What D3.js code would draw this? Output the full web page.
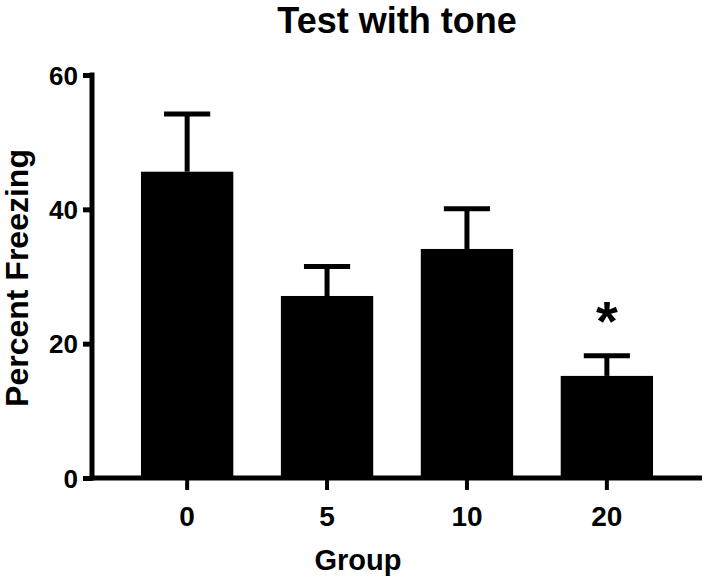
<!DOCTYPE html>
<html>
<head>
<meta charset="utf-8">
<script src="https://cdn.jsdelivr.net/npm/d3@7"></script>
<style>
  body { margin: 0; background: #fff; }
  svg text { font-family: "Liberation Sans", Arial, sans-serif; font-weight: bold; fill: #000; }
</style>
</head>
<body>
<svg id="chart" width="705" height="583"></svg>
<script>
// data
var groups = ["0", "5", "10", "20"],
meanFreezing = [45.6, 27.1, 34.1, 15.2],
semFreezing = [8.6, 4.4, 6.0, 3.0],
yTicks = [0, 20, 40, 60],
starGroups = ["20"];

var width = 705, height = 583,
x0 = 92, x1 = 702, yTop = 75, yBase = 478;

var svg = d3.select("#chart");

var x = d3.scaleBand()
.domain(groups)
.range([x0, x1])
.paddingInner(0.34)
.paddingOuter(0.35);

var y = d3.scaleLinear()
.domain([0, 60])
.range([yBase, yTop]);

var data = groups.map(function (g, i) {
  return {group: g, mean: meanFreezing[i], sem: semFreezing[i]};
});

// error bars (upper only)
var err = svg.append("g").attr("class", "errors");
err.selectAll("line.stem")
.data(data)
.enter().append("line")
.attr("class", "stem")
.attr("x1", function (d) {return x(d.group) + x.bandwidth()/2;})
.attr("x2", function (d) {return x(d.group) + x.bandwidth()/2;})
.attr("y1", function (d) {return y(d.mean);})
.attr("y2", function (d) {return y(d.mean + d.sem);})
.style("stroke", "#000")
.style("stroke-width", 5);

err.selectAll("line.cap")
.data(data)
.enter().append("line")
.attr("class", "cap")
.attr("x1", function (d) {return x(d.group) + x.bandwidth()/4;})
.attr("x2", function (d) {return x(d.group) + 3*x.bandwidth()/4;})
.attr("y1", function (d) {return y(d.mean + d.sem);})
.attr("y2", function (d) {return y(d.mean + d.sem);})
.style("stroke", "#000")
.style("stroke-width", 5);

// bars
svg.append("g").selectAll("rect")
.data(data)
.enter().append("rect")
.attr("x", function (d) {return x(d.group);})
.attr("y", function (d) {return y(d.mean);})
.attr("width", x.bandwidth())
.attr("height", function (d) {return y(0) - y(d.mean);})
.style("fill", "#000");

// significance star
svg.append("g").selectAll("text")
.data(data.filter(function (d) {return starGroups.indexOf(d.group) >= 0;}))
.enter().append("text")
.attr("x", function (d) {return x(d.group) + x.bandwidth()/2;})
.attr("y", function (d) {return y(d.mean + d.sem) - 16;})
.attr("text-anchor", "middle")
.style("font-size", "56px")
.text("*");

// y axis
var yAxis = svg.append("g")
.attr("transform", "translate(" + x0 + ",0)")
.call(d3.axisLeft(y).tickValues(yTicks).tickSize(9).tickPadding(5));
yAxis.select(".domain").attr("d", "M0," + (yTop - 2.5) + "V" + (yBase + 2.5));
yAxis.selectAll("path, line").style("stroke", "#000").style("stroke-width", 5);
yAxis.selectAll("text").style("font-size", "26px").attr("dy", "0.35em");

// x axis
var xAxis = svg.append("g")
.attr("transform", "translate(0," + yBase + ")")
.call(d3.axisBottom(x).tickSize(12).tickPadding(16));
xAxis.select(".domain").attr("d", "M" + (x0 - 2.5) + ",0H" + x1);
xAxis.selectAll("path, line").style("stroke", "#000").style("stroke-width", 5);
xAxis.selectAll(".tick line").style("stroke-width", 4);
xAxis.selectAll("text").style("font-size", "28px");

// titles
svg.append("text")
.attr("x", 397)
.attr("y", 33)
.attr("text-anchor", "middle")
.style("font-size", "36px")
.text("Test with tone");

svg.append("text")
.attr("x", 358)
.attr("y", 570)
.attr("text-anchor", "middle")
.style("font-size", "29px")
.text("Group");

svg.append("text")
.attr("transform", "translate(28,278)rotate(-90)")
.attr("text-anchor", "middle")
.style("font-size", "32px")
.text("Percent Freezing");
</script>
</body>
</html>
